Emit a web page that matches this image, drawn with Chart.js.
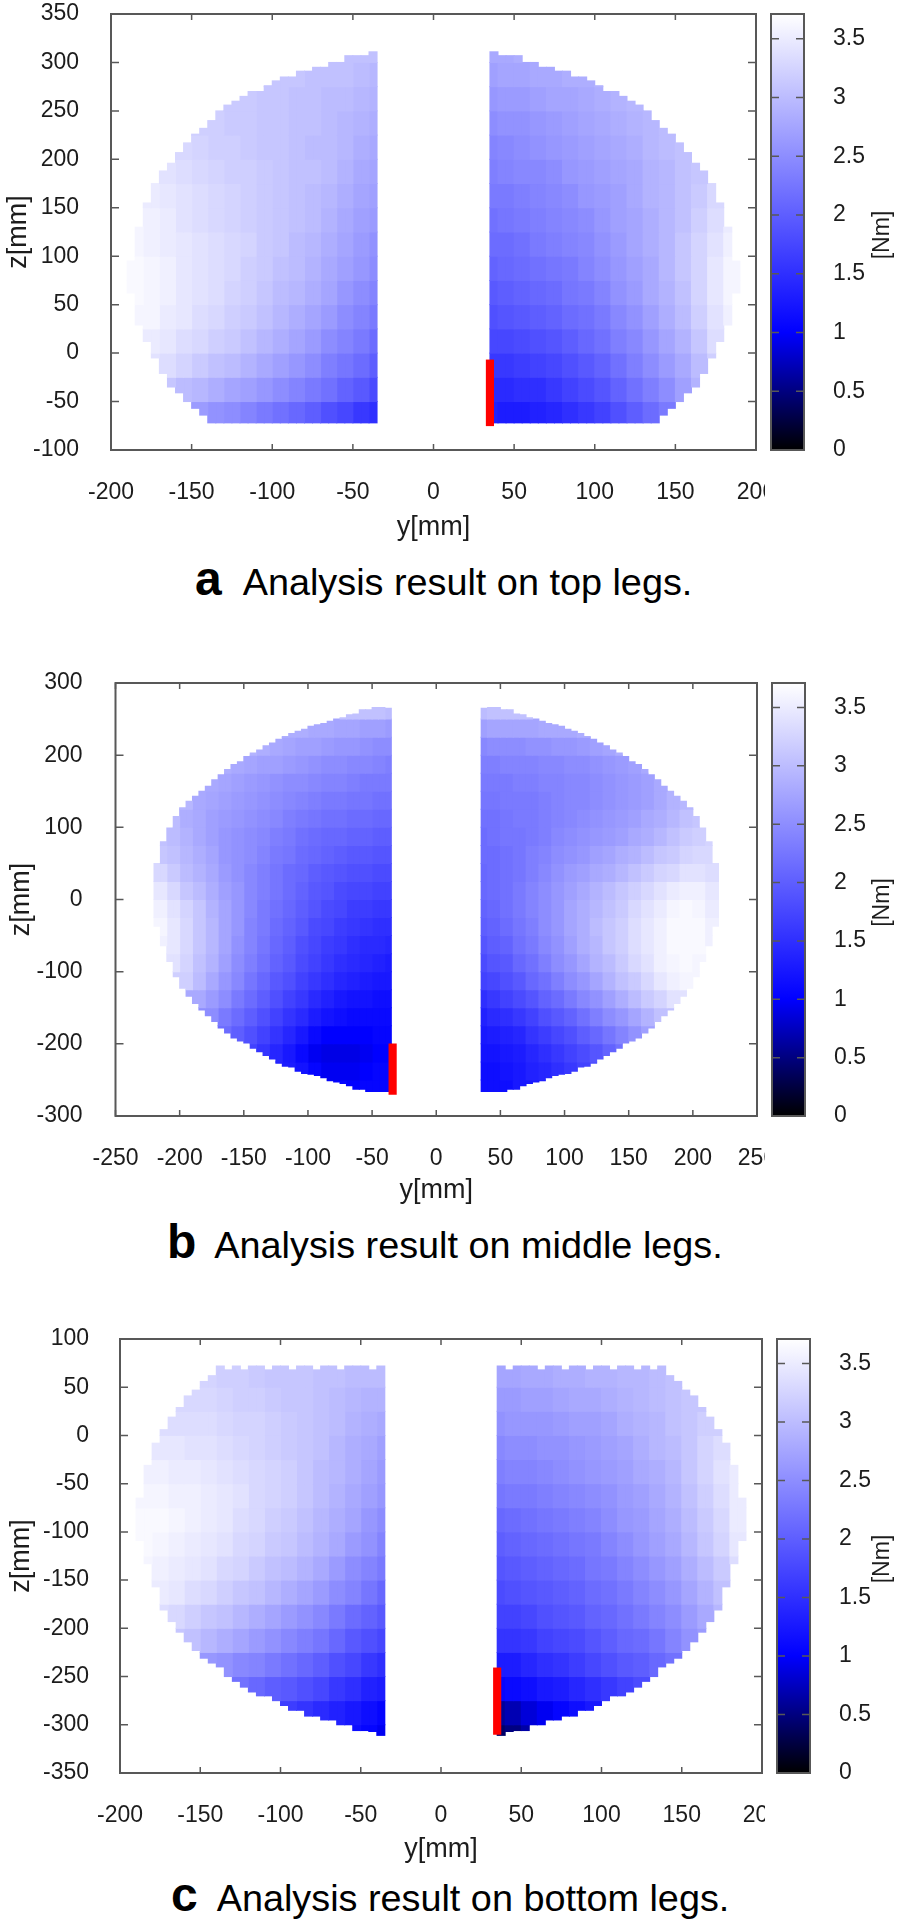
<!DOCTYPE html>
<html>
<head>
<meta charset="utf-8">
<title>Analysis results</title>
<script src="https://cdn.jsdelivr.net/npm/chart.js@4/dist/chart.umd.js"></script>
<style>
  html, body { margin: 0; padding: 0; background: #fff; }
  body { position: relative; width: 904px; height: 1923px; overflow: hidden; font-family: "Liberation Sans", Arial, sans-serif; }
  canvas { position: absolute; }
  .caption { position: absolute; white-space: nowrap; line-height: 50px; font-size: 37.8px; color: #000; }
  .caption b { font-size: 48px; }
</style>
</head>
<body>
<script>
// value -> colour of the colour bar
const PALETTE_VALUES = [0, 1, 3.71];
const PALETTE_COLORS = [[0, 0, 0], [0, 0, 255], [255, 255, 255]];
const BAR_TICKS_MAX = 3.71;

const captionLetters = ['a', 'b', 'c'];
const captionTexts = ['Analysis result on top legs.', 'Analysis result on middle legs.', 'Analysis result on bottom legs.'];

// outlines per 5 mm column, from |y| = 35 outwards
const topA = [311,307,307,307,300,300,295,295,291,291,285,285,281,276,270,270,265,260,256,250,240,232,226,217,207,196,188,175,155,130,95];
const bottomA = [-72,-72,-72,-72,-72,-72,-72,-72,-72,-72,-72,-72,-72,-72,-72,-72,-72,-72,-72,-72,-72,-64,-57,-50,-41,-35,-21,-5,12,29,62];
const topB = [265,266,266,263,263,257,256,252,250,247,244,242,240,236,233,230,226,222,217,213,207,203,198,191,187,180,173,166,157,150,143,136,127,115,99,80,50];
const bottomB = [-266,-266,-266,-266,-263,-263,-258,-255,-253,-251,-247,-244,-242,-241,-238,-232,-231,-227,-221,-216,-211,-206,-199,-196,-192,-185,-178,-169,-161,-153,-144,-134,-123,-107,-86,-64,-37];
const topC = [72,68,72,72,72,68,72,72,68,72,72,68,72,72,68,72,72,68,72,68,72,62,56,47,41,29,19,6,-8,-31,-65];
const bottomC = [-311,-307,-306,-306,-300,-300,-295,-295,-291,-291,-285,-285,-280,-275,-270,-270,-266,-261,-255,-250,-240,-236,-231,-223,-214,-204,-193,-181,-157,-133,-109];

// red marker: y, z low, z high
const redA = [35, -75, -7];
const redB = [-34, -270, -200];
const redC = [35, -310, -241];

// torque in Nm. Rows run top to bottom, 25 mm tall. Left tables run outer to inner, right tables inner to outer.
const leftA = [
  [0,0,0,0,0,0,0,0,0,0,0,0,0,3.05,3.05,3.05],
  [0,0,0,0,0,0,0,0,3.1,3.1,3.1,3.05,3.05,3.05,3.0,2.95],
  [0,0,0,0,0,0,3.15,3.15,3.1,3.1,3.05,3.05,3.0,3.0,2.95,2.9],
  [0,0,0,0,3.2,3.2,3.15,3.15,3.1,3.1,3.05,3.05,3.0,2.95,2.9,2.85],
  [0,0,0,3.3,3.25,3.2,3.2,3.15,3.1,3.1,3.05,3.0,3.0,2.95,2.85,2.8],
  [0,0,3.4,3.35,3.3,3.25,3.2,3.2,3.15,3.1,3.05,3.05,3.0,2.9,2.8,2.75],
  [0,3.5,3.45,3.4,3.35,3.3,3.25,3.2,3.15,3.1,3.05,3.0,2.95,2.85,2.75,2.7],
  [3.6,3.55,3.5,3.4,3.35,3.3,3.25,3.2,3.15,3.1,3.05,3.0,2.9,2.8,2.7,2.65],
  [3.6,3.55,3.5,3.45,3.4,3.35,3.3,3.25,3.15,3.1,3.0,2.95,2.85,2.75,2.65,2.55],
  [3.65,3.6,3.55,3.45,3.4,3.35,3.3,3.2,3.15,3.05,3.0,2.9,2.8,2.7,2.6,2.5],
  [3.65,3.6,3.55,3.45,3.4,3.35,3.25,3.2,3.1,3.0,2.95,2.85,2.75,2.6,2.5,2.4],
  [3.6,3.6,3.5,3.45,3.35,3.3,3.2,3.15,3.05,2.95,2.85,2.75,2.65,2.5,2.4,2.3],
  [3.55,3.5,3.45,3.35,3.3,3.2,3.15,3.05,2.95,2.85,2.75,2.65,2.5,2.4,2.3,2.15],
  [3.45,3.4,3.35,3.25,3.15,3.05,3.0,2.9,2.8,2.7,2.6,2.5,2.35,2.25,2.15,2.0],
  [3.3,3.25,3.1,3.0,2.95,2.85,2.75,2.7,2.6,2.5,2.4,2.3,2.2,2.05,1.95,1.8],
  [3.05,3.05,2.9,2.8,2.65,2.55,2.5,2.4,2.3,2.2,2.1,2.0,1.85,1.75,1.6,1.5],
];
const rightA = [
  [2.8,2.8,2.85,2.85,0,0,0,0,0,0,0,0,0,0,0,0],
  [2.7,2.75,2.75,2.8,2.8,2.85,2.85,2.9,0,0,0,0,0,0,0,0],
  [2.6,2.65,2.65,2.7,2.75,2.75,2.8,2.85,2.9,2.95,0,0,0,0,0,0],
  [2.5,2.55,2.55,2.6,2.65,2.7,2.75,2.8,2.85,2.9,2.95,3.0,0,0,0,0],
  [2.4,2.45,2.5,2.55,2.6,2.65,2.7,2.75,2.8,2.85,2.95,3.0,3.05,0,0,0],
  [2.35,2.4,2.45,2.45,2.5,2.6,2.65,2.7,2.75,2.8,2.9,2.95,3.05,3.1,0,0],
  [2.3,2.3,2.35,2.4,2.45,2.5,2.6,2.65,2.7,2.8,2.9,2.95,3.05,3.15,3.3,0],
  [2.2,2.25,2.3,2.35,2.4,2.45,2.5,2.6,2.7,2.75,2.85,2.95,3.05,3.2,3.35,3.5],
  [2.15,2.15,2.2,2.3,2.35,2.4,2.45,2.55,2.65,2.75,2.85,2.95,3.1,3.25,3.4,3.55],
  [2.05,2.1,2.15,2.2,2.25,2.3,2.4,2.5,2.6,2.7,2.8,2.95,3.1,3.25,3.45,3.6],
  [1.95,2.0,2.05,2.1,2.15,2.25,2.3,2.4,2.55,2.65,2.8,2.9,3.05,3.25,3.45,3.6],
  [1.85,1.9,1.95,2.0,2.05,2.15,2.2,2.3,2.45,2.55,2.7,2.85,3.0,3.2,3.4,3.55],
  [1.75,1.75,1.8,1.85,1.9,2.0,2.1,2.2,2.35,2.45,2.6,2.75,2.9,3.1,3.35,3.5],
  [1.6,1.6,1.65,1.7,1.75,1.85,1.95,2.05,2.2,2.35,2.5,2.65,2.8,3.0,3.2,3.35],
  [1.45,1.45,1.5,1.5,1.6,1.7,1.8,1.9,2.05,2.2,2.35,2.5,2.7,2.9,3.1,3.2],
  [1.35,1.3,1.3,1.35,1.4,1.5,1.6,1.7,1.85,2.0,2.15,2.3,2.5,2.7,2.9,3.0],
];
const leftB = [
  [0,0,0,0,0,0,0,0,0,0,0,0,0,0,0,0,3.05,3.05,3.0],
  [0,0,0,0,0,0,0,0,0,2.9,2.85,2.85,2.8,2.8,2.75,2.75,2.7,2.7,2.65],
  [0,0,0,0,0,0,0,2.9,2.85,2.8,2.75,2.7,2.7,2.65,2.6,2.6,2.55,2.5,2.5],
  [0,0,0,0,0,2.85,2.8,2.75,2.7,2.7,2.65,2.6,2.55,2.5,2.5,2.45,2.45,2.4,2.35],
  [0,0,0,0,2.8,2.75,2.7,2.65,2.6,2.55,2.5,2.5,2.45,2.4,2.4,2.35,2.3,2.3,2.3],
  [0,0,2.95,2.8,2.75,2.7,2.65,2.6,2.55,2.5,2.45,2.4,2.35,2.3,2.3,2.25,2.25,2.2,2.2],
  [0,3.0,2.85,2.8,2.7,2.65,2.6,2.55,2.5,2.45,2.35,2.3,2.25,2.2,2.2,2.15,2.15,2.1,2.1],
  [3.05,3.0,2.9,2.8,2.7,2.6,2.55,2.5,2.45,2.35,2.3,2.2,2.15,2.1,2.1,2.05,2.05,2.0,2.0],
  [3.1,3.05,2.95,2.85,2.75,2.6,2.55,2.5,2.4,2.3,2.25,2.15,2.1,2.05,2.0,1.95,1.95,1.9,1.9],
  [3.3,3.15,3.0,2.9,2.8,2.65,2.55,2.45,2.35,2.25,2.15,2.1,2.0,1.95,1.9,1.85,1.85,1.8,1.8],
  [3.45,3.3,3.1,3.0,2.85,2.7,2.6,2.45,2.35,2.25,2.15,2.05,1.95,1.9,1.8,1.75,1.75,1.7,1.7],
  [3.55,3.4,3.25,3.1,2.9,2.75,2.6,2.45,2.3,2.2,2.1,2.0,1.9,1.8,1.75,1.65,1.65,1.6,1.6],
  [3.6,3.45,3.3,3.1,2.95,2.75,2.6,2.4,2.3,2.15,2.05,1.95,1.8,1.75,1.65,1.6,1.55,1.5,1.5],
  [3.55,3.45,3.3,3.1,2.95,2.75,2.55,2.4,2.25,2.1,2.0,1.85,1.75,1.65,1.6,1.5,1.45,1.45,1.4],
  [0,3.4,3.25,3.05,2.9,2.7,2.5,2.35,2.2,2.05,1.95,1.8,1.7,1.6,1.5,1.45,1.4,1.35,1.3],
  [0,0,3.2,3.0,2.8,2.6,2.45,2.25,2.1,1.95,1.85,1.7,1.6,1.5,1.4,1.35,1.3,1.25,1.25],
  [0,0,0,2.8,2.65,2.5,2.3,2.15,2.0,1.85,1.7,1.6,1.45,1.35,1.25,1.2,1.2,1.15,1.15],
  [0,0,0,0,2.5,2.3,2.15,2.0,1.85,1.7,1.55,1.45,1.3,1.2,1.15,1.1,1.1,1.1,1.1],
  [0,0,0,0,0,2.15,2.0,1.85,1.7,1.55,1.4,1.25,1.1,1.0,1.0,1.0,1.0,1.05,1.05],
  [0,0,0,0,0,0,0,1.7,1.55,1.4,1.25,1.1,0.95,0.9,0.9,0.9,0.95,1.0,1.0],
  [0,0,0,0,0,0,0,0,0,1.35,1.3,1.2,1.05,0.95,0.95,0.95,1.0,1.05,1.05],
  [0,0,0,0,0,0,0,0,0,0,0,0,0,1.1,1.05,1.0,1.05,1.05,1.05],
];
const rightB = [
  [3.0,3.05,3.05,3.05,0,0,0,0,0,0,0,0,0,0,0,0,0,0,0],
  [2.7,2.75,2.75,2.75,2.75,2.8,2.8,2.8,2.85,0,0,0,0,0,0,0,0,0,0],
  [2.45,2.5,2.5,2.5,2.55,2.55,2.6,2.6,2.65,2.7,2.75,2.85,0,0,0,0,0,0,0],
  [2.35,2.35,2.4,2.4,2.4,2.45,2.45,2.5,2.5,2.55,2.6,2.65,2.7,2.8,0,0,0,0,0],
  [2.3,2.3,2.3,2.35,2.35,2.4,2.4,2.45,2.45,2.5,2.55,2.6,2.65,2.7,2.8,0,0,0,0],
  [2.25,2.25,2.3,2.3,2.3,2.35,2.4,2.45,2.45,2.5,2.55,2.6,2.65,2.7,2.8,2.9,2.95,0,0],
  [2.2,2.2,2.25,2.3,2.3,2.35,2.4,2.45,2.5,2.55,2.6,2.65,2.7,2.8,2.85,2.95,3.05,3.1,0],
  [2.15,2.2,2.25,2.25,2.3,2.35,2.45,2.5,2.55,2.6,2.65,2.7,2.8,2.85,2.95,3.05,3.15,3.2,3.25],
  [2.15,2.15,2.2,2.25,2.35,2.4,2.5,2.55,2.6,2.7,2.75,2.85,2.9,3.0,3.1,3.15,3.25,3.3,3.3],
  [2.1,2.15,2.2,2.25,2.35,2.45,2.55,2.65,2.7,2.8,2.85,2.95,3.05,3.15,3.25,3.3,3.4,3.4,3.35],
  [2.1,2.15,2.2,2.3,2.4,2.5,2.6,2.7,2.8,2.9,3.0,3.1,3.2,3.3,3.4,3.5,3.55,3.55,3.45],
  [2.05,2.1,2.2,2.3,2.4,2.5,2.6,2.75,2.85,2.95,3.05,3.15,3.3,3.4,3.5,3.6,3.65,3.6,3.5],
  [2.0,2.05,2.15,2.25,2.35,2.5,2.6,2.75,2.85,3.0,3.1,3.2,3.35,3.45,3.55,3.65,3.65,3.65,3.55],
  [1.9,2.0,2.05,2.2,2.3,2.45,2.55,2.7,2.85,2.95,3.1,3.2,3.35,3.45,3.55,3.65,3.65,3.65,3.55],
  [1.8,1.9,1.95,2.1,2.2,2.35,2.5,2.6,2.75,2.9,3.0,3.15,3.3,3.4,3.55,3.6,3.65,3.6,0],
  [1.7,1.75,1.85,1.95,2.1,2.2,2.35,2.5,2.6,2.75,2.9,3.05,3.15,3.3,3.45,3.55,3.6,0,0],
  [1.5,1.6,1.7,1.8,1.9,2.05,2.15,2.3,2.45,2.55,2.7,2.85,3.0,3.15,3.25,3.4,0,0,0],
  [1.35,1.45,1.5,1.6,1.7,1.85,1.95,2.05,2.2,2.35,2.5,2.6,2.75,2.9,3.05,0,0,0,0],
  [1.25,1.3,1.35,1.4,1.55,1.65,1.75,1.85,2.0,2.1,2.25,2.4,2.55,2.7,0,0,0,0,0],
  [1.2,1.2,1.25,1.3,1.4,1.5,1.6,1.7,1.8,1.9,2.05,2.2,0,0,0,0,0,0,0],
  [1.15,1.15,1.2,1.25,1.35,1.4,1.5,1.6,1.7,1.8,0,0,0,0,0,0,0,0,0],
  [1.15,1.15,1.15,1.25,0,0,0,0,0,0,0,0,0,0,0,0,0,0,0],
];
const leftC = [
  [0,0,0,0,3.25,3.2,3.2,3.15,3.1,3.1,3.1,3.05,3.05,3.0,3.0,3.0],
  [0,0,0,3.3,3.3,3.25,3.2,3.2,3.15,3.1,3.1,3.05,3.0,2.95,2.9,2.9],
  [0,0,3.35,3.35,3.35,3.3,3.25,3.25,3.2,3.15,3.1,3.05,3.0,2.9,2.85,2.8],
  [0,3.45,3.45,3.4,3.4,3.35,3.3,3.25,3.2,3.15,3.1,3.05,2.95,2.85,2.8,2.7],
  [3.55,3.55,3.5,3.5,3.45,3.4,3.35,3.3,3.25,3.2,3.1,3.0,2.95,2.85,2.75,2.65],
  [3.6,3.6,3.55,3.55,3.5,3.45,3.4,3.3,3.25,3.2,3.1,3.0,2.9,2.8,2.7,2.6],
  [3.65,3.65,3.6,3.55,3.5,3.45,3.35,3.3,3.2,3.15,3.05,2.95,2.85,2.75,2.6,2.5],
  [3.65,3.6,3.55,3.5,3.45,3.4,3.3,3.25,3.15,3.1,3.0,2.9,2.8,2.65,2.55,2.4],
  [3.6,3.55,3.5,3.45,3.4,3.3,3.25,3.15,3.05,3.0,2.9,2.8,2.65,2.5,2.4,2.3],
  [3.55,3.5,3.45,3.35,3.3,3.2,3.1,3.05,2.95,2.85,2.75,2.65,2.5,2.4,2.25,2.1],
  [0,3.35,3.3,3.2,3.1,3.05,2.95,2.85,2.75,2.65,2.55,2.45,2.3,2.15,2.05,1.95],
  [0,0,3.1,3.05,2.95,2.85,2.75,2.65,2.55,2.45,2.35,2.25,2.1,1.95,1.85,1.75],
  [0,0,0,2.75,2.6,2.55,2.45,2.4,2.3,2.2,2.1,2.0,1.85,1.75,1.6,1.5],
  [0,0,0,0,0,2.3,2.2,2.1,2.0,1.95,1.85,1.75,1.6,1.5,1.35,1.3],
  [0,0,0,0,0,0,0,0,1.8,1.65,1.55,1.45,1.35,1.25,1.15,1.05],
  [0,0,0,0,0,0,0,0,0,0,0,0,0,1.15,1.05,0.95],
];
const rightC = [
  [2.75,2.75,2.8,2.8,2.85,2.85,2.9,2.9,2.95,2.95,3.0,3.05,0,0,0,0],
  [2.65,2.65,2.7,2.7,2.75,2.8,2.8,2.85,2.9,2.95,3.0,3.05,3.1,0,0,0],
  [2.55,2.6,2.6,2.6,2.65,2.7,2.7,2.75,2.85,2.9,2.95,3.05,3.1,3.2,0,0],
  [2.45,2.5,2.5,2.55,2.55,2.6,2.65,2.7,2.75,2.85,2.95,3.0,3.1,3.25,3.35,0],
  [2.35,2.4,2.4,2.45,2.5,2.55,2.6,2.65,2.7,2.8,2.85,2.95,3.1,3.25,3.4,3.5],
  [2.25,2.3,2.3,2.35,2.4,2.45,2.5,2.55,2.65,2.7,2.8,2.9,3.05,3.2,3.35,3.5],
  [2.1,2.15,2.2,2.25,2.3,2.35,2.4,2.5,2.6,2.65,2.75,2.85,3.0,3.15,3.3,3.5],
  [2.0,2.05,2.1,2.15,2.2,2.25,2.3,2.4,2.5,2.6,2.7,2.8,2.95,3.1,3.25,3.45],
  [1.9,1.95,2.0,2.05,2.1,2.15,2.25,2.3,2.4,2.5,2.6,2.7,2.85,3.0,3.15,3.35],
  [1.8,1.85,1.9,1.95,2.0,2.05,2.15,2.2,2.3,2.4,2.5,2.6,2.75,2.9,3.05,3.25],
  [1.7,1.7,1.75,1.85,1.9,1.95,2.05,2.1,2.2,2.3,2.4,2.5,2.65,2.8,2.95,0],
  [1.55,1.55,1.6,1.7,1.75,1.8,1.9,2.0,2.1,2.15,2.25,2.4,2.55,2.65,0,0],
  [1.3,1.3,1.4,1.5,1.55,1.65,1.75,1.85,1.95,2.0,2.1,2.2,2.35,0,0,0],
  [1.05,1.1,1.15,1.25,1.3,1.4,1.5,1.6,1.7,1.8,1.9,0,0,0,0,0],
  [0.6,0.7,0.85,0.95,1.05,1.15,1.25,1.35,0,0,0,0,0,0,0,0],
  [0.4,0.5,0.65,0.75,0,0,0,0,0,0,0,0,0,0,0,0],
];

const panels = [
  { canvasTop: 0, height: 544, plotLeft: 111, plotRight: 756, plotTop: 14, plotBottom: 450, titlePad: 2, tickPad: 24,
    xMin: -200, xMax: 200, xStep: 50, zMin: -100, zMax: 350, zStep: 50, rowTop: 325,
    top: topA, bottom: bottomA, left: leftA, right: rightA, red: redA,
    barLeft: 771, barRight: 804, captionLeft: 195, captionTop: 554, captionGap: 21 },
  { canvasTop: 660, height: 547, plotLeft: 115.5, plotRight: 757, plotTop: 683, plotBottom: 1116, titlePad: 5, tickPad: 25,
    xMin: -250, xMax: 250, xStep: 50, zMin: -300, zMax: 300, zStep: 100, rowTop: 275,
    top: topB, bottom: bottomB, left: leftB, right: rightB, red: redB,
    barLeft: 772, barRight: 805, captionLeft: 167, captionTop: 1217, captionGap: 18 },
  { canvasTop: 1320, height: 546, plotLeft: 120, plotRight: 762, plotTop: 1339, plotBottom: 1773, titlePad: 5, tickPad: 23,
    xMin: -200, xMax: 200, xStep: 50, zMin: -350, zMax: 100, zStep: 50, rowTop: 75,
    top: topC, bottom: bottomC, left: leftC, right: rightC, red: redC,
    barLeft: 777, barRight: 810, captionLeft: 171, captionTop: 1870, captionGap: 19 },
];

const FRAME_COLOR = '#585858';
const TEXT_COLOR = '#1c1c1c';
const TICK_FONT = { family: 'Liberation Sans', size: 23 };

function paletteColor(v) {
  let i = 0;
  while (i < PALETTE_VALUES.length - 2 && v > PALETTE_VALUES[i + 1]) i++;
  const t = (v - PALETTE_VALUES[i]) / (PALETTE_VALUES[i + 1] - PALETTE_VALUES[i]);
  const c = PALETTE_COLORS[i].map((a, k) => Math.round(a + (PALETTE_COLORS[i + 1][k] - a) * t));
  return `rgb(${c[0]},${c[1]},${c[2]})`;
}

// a 5 mm column k shares the value column of its 10 mm cell; cells at the rim fall back inwards
function cellValue(row, k, mirrored) {
  let col = Math.floor((k + 1) / 2);
  const read = c => mirrored ? row[row.length - 1 - c] : row[c];
  while (!read(col) && col > 0) col--;
  return read(col);
}

function heatDatasets(p) {
  const thickness = 5 * (p.plotRight - p.plotLeft) / (p.xMax - p.xMin);
  return p.right.map((rightRow, r) => {
    const hi = p.rowTop - r * 25;
    const lo = hi - 25;
    const points = [];
    const colors = [];
    p.top.forEach((columnTop, k) => {
      const segLo = Math.max(lo, p.bottom[k]);
      const segHi = Math.min(hi, columnTop);
      if (segHi <= segLo) return;
      const centre = 37.5 + 5 * k;
      const leftVal = cellValue(p.left[r], k, true);
      const rightVal = cellValue(rightRow, k, false);
      if (leftVal) {
        points.push({ x: -centre, y: [segLo, segHi] });
        colors.push(paletteColor(leftVal));
      }
      if (rightVal) {
        points.push({ x: centre, y: [segLo, segHi] });
        colors.push(paletteColor(rightVal));
      }
    });
    return { data: points, backgroundColor: colors, barThickness: thickness, grouped: false, order: 1, inflateAmount: 0.5 };
  });
}

// tick labels must not push the plot area around
function pinScale(s) {
  s.paddingLeft = 0;
  s.paddingRight = 0;
  s.paddingTop = 0;
  s.paddingBottom = 0;
}

const frameTicks = {
  id: 'frameTicks',
  afterDatasetsDraw(chart) {
    const { ctx, chartArea: a, scales } = chart;
    ctx.save();
    ctx.strokeStyle = FRAME_COLOR;
    ctx.lineWidth = 1.5;
    ctx.beginPath();
    if (scales.x && scales.x.options.display) {
      scales.x.ticks.forEach((t, i) => {
        const px = scales.x.getPixelForTick(i);
        ctx.moveTo(px, a.top); ctx.lineTo(px, a.top + 6);
        ctx.moveTo(px, a.bottom); ctx.lineTo(px, a.bottom - 6);
      });
    }
    scales.y.ticks.forEach((t, i) => {
      const py = scales.y.getPixelForTick(i);
      ctx.moveTo(a.left, py); ctx.lineTo(a.left + 8, py);
      ctx.moveTo(a.right, py); ctx.lineTo(a.right - 8, py);
    });
    ctx.stroke();
    ctx.lineWidth = 2;
    ctx.strokeRect(a.left, a.top, a.right - a.left, a.bottom - a.top);
    ctx.restore();
  },
};

const barTitle = {
  id: 'barTitle',
  afterDraw(chart) {
    const { ctx, chartArea: a } = chart;
    ctx.save();
    ctx.translate(118, (a.top + a.bottom) / 2 + 3);
    ctx.rotate(-Math.PI / 2);
    ctx.font = '23px "Liberation Sans"';
    ctx.fillStyle = TEXT_COLOR;
    ctx.textAlign = 'center';
    ctx.textBaseline = 'middle';
    ctx.fillText('[Nm]', 0, 0);
    ctx.restore();
  },
};

function addCanvas(left, top, width, height) {
  const c = document.createElement('canvas');
  c.width = width;
  c.height = height;
  c.style.left = left + 'px';
  c.style.top = top + 'px';
  c.style.width = width + 'px';
  c.style.height = height + 'px';
  document.body.appendChild(c);
  return c;
}

function drawPanel(p) {
  const canvas = addCanvas(0, p.canvasTop, 765, p.height);
  const datasets = heatDatasets(p);
  datasets.unshift({
    data: [{ x: p.red[0], y: [p.red[1], p.red[2]] }],
    backgroundColor: '#ff0000', barThickness: 7.5, grouped: false, order: 0,
  });
  new Chart(canvas, {
    type: 'bar',
    data: { datasets },
    options: {
      responsive: false,
      animation: false,
      layout: { padding: { left: 0, right: 765 - p.plotRight, top: p.plotTop - p.canvasTop, bottom: 0 } },
      plugins: { legend: { display: false }, tooltip: { enabled: false } },
      scales: {
        x: {
          type: 'linear', offset: false, min: p.xMin, max: p.xMax,
          grid: { display: false, offset: false }, border: { display: false },
          ticks: { stepSize: p.xStep, font: TICK_FONT, color: TEXT_COLOR, padding: 21, maxRotation: 0, autoSkip: false, callback: v => String(v) },
          title: { display: true, text: 'y[mm]', color: TEXT_COLOR, font: { family: 'Liberation Sans', size: 27 }, padding: 0 },
          afterFit(s) { s.height = p.canvasTop + p.height - p.plotBottom; pinScale(s); },
        },
        y: {
          type: 'linear', min: p.zMin, max: p.zMax,
          grid: { display: false }, border: { display: false },
          ticks: { stepSize: p.zStep, font: TICK_FONT, color: TEXT_COLOR, padding: p.tickPad, autoSkip: false, callback: v => String(v) },
          title: { display: true, text: 'z[mm]', color: TEXT_COLOR, font: { family: 'Liberation Sans', size: 27 }, padding: { top: p.titlePad, bottom: 0 } },
          afterFit(s) { s.width = p.plotLeft; pinScale(s); },
        },
      },
    },
    plugins: [frameTicks],
  });
}

function drawColorBar(p) {
  const canvasLeft = 765;
  const canvas = addCanvas(canvasLeft, p.canvasTop, 139, p.height);
  new Chart(canvas, {
    type: 'bar',
    data: {
      labels: ['Nm'],
      datasets: [{
        data: [[0, BAR_TICKS_MAX]],
        barPercentage: 1,
        categoryPercentage: 1,
        backgroundColor(ctx) {
          const { chart } = ctx;
          if (!chart.chartArea) return '#000';
          const g = chart.ctx.createLinearGradient(0, chart.scales.y.getPixelForValue(0), 0, chart.scales.y.getPixelForValue(BAR_TICKS_MAX));
          PALETTE_VALUES.forEach((v, i) => g.addColorStop(v / BAR_TICKS_MAX, paletteColor(v)));
          return g;
        },
      }],
    },
    options: {
      responsive: false,
      animation: false,
      layout: { padding: { left: p.barLeft - canvasLeft, right: 0, top: p.plotTop - p.canvasTop, bottom: p.canvasTop + p.height - p.plotBottom } },
      plugins: { legend: { display: false }, tooltip: { enabled: false } },
      scales: {
        x: { display: false },
        y: {
          position: 'right', min: 0, max: BAR_TICKS_MAX,
          grid: { display: false }, border: { display: false },
          ticks: { stepSize: 0.5, includeBounds: false, font: TICK_FONT, color: TEXT_COLOR, padding: 21, callback: v => String(v) },
          afterFit(s) { s.width = canvasLeft + 139 - p.barRight; pinScale(s); },
        },
      },
    },
    plugins: [frameTicks, barTitle],
  });
}

function addCaption(p, i) {
  const div = document.createElement('div');
  div.className = 'caption';
  div.style.left = p.captionLeft + 'px';
  div.style.top = p.captionTop + 'px';
  const letter = document.createElement('b');
  letter.textContent = captionLetters[i];
  letter.style.marginRight = p.captionGap + 'px';
  div.appendChild(letter);
  div.appendChild(document.createTextNode(captionTexts[i]));
  document.body.appendChild(div);
}

panels.forEach((p, i) => {
  drawPanel(p);
  drawColorBar(p);
  addCaption(p, i);
});
</script>
</body>
</html>
